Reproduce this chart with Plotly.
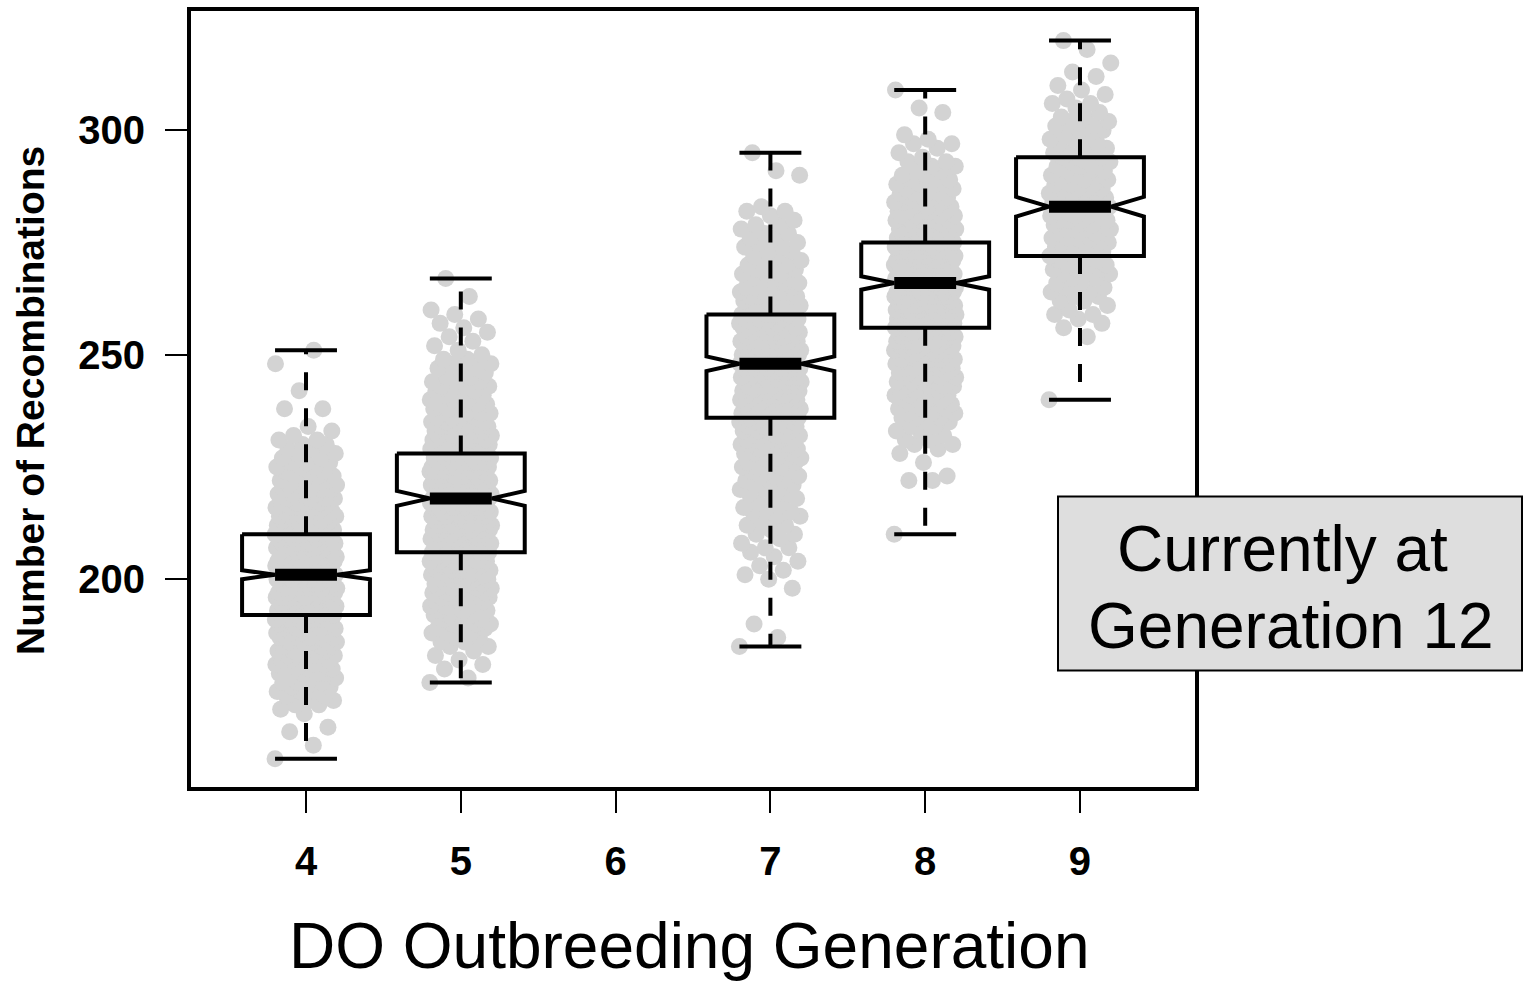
import plotly.graph_objects as go

# ---- data -------------------------------------------------------------
GENERATIONS = [4, 5, 7, 8, 9]
AXIS_GENERATIONS = [4, 5, 6, 7, 8, 9]
AXIS_COUNTS = [200, 250, 300]

# box statistics per generation
BOX_Q1 = [192, 206, 236, 256, 272]
BOX_MEDIAN = [201, 218, 248, 266, 283]
BOX_Q3 = [210, 228, 259, 275, 294]
WHISKER_LO = [160, 177, 185, 210, 240]
WHISKER_HI = [251, 267, 295, 309, 320]
NOTCH_HALF = [1.0, 1.65, 1.65, 1.5, 2.2]

# recombination counts per animal, stored as frequency tables:
# first value, then the number of animals at each consecutive integer
COUNT_START = [160, 177, 185, 210, 240]
GEN4_FREQ = [
    1, 0, 0, 1, 0, 0, 1, 1, 0, 0,
    1, 1, 2, 2, 2, 3, 3, 3, 3, 4,
    4, 4, 4, 5, 5, 5, 5, 6, 6, 6,
    7, 7, 7, 7, 7, 8, 8, 8, 8, 8,
    8, 8, 8, 8, 8, 8, 7, 7, 7, 7,
    7, 6, 6, 6, 6, 5, 5, 5, 4, 4,
    4, 4, 3, 3, 3, 3, 3, 2, 2, 2,
    2, 2, 1, 1, 1, 0, 0, 0, 2, 0,
    0, 0, 1, 0, 0, 0, 0, 0, 1, 0,
    0, 1,
]
GEN5_FREQ = [
    1, 1, 0, 1, 1, 1, 1, 1, 2, 2,
    2, 3, 3, 3, 3, 4, 4, 4, 4, 5,
    5, 5, 5, 5, 6, 6, 6, 6, 6, 7,
    7, 7, 7, 7, 7, 8, 8, 8, 8, 8,
    8, 8, 8, 8, 8, 8, 7, 7, 7, 7,
    7, 6, 6, 6, 6, 5, 5, 5, 5, 4,
    4, 4, 4, 3, 3, 3, 3, 3, 2, 2,
    2, 2, 2, 1, 1, 1, 1, 1, 1, 1,
    1, 1, 1, 1, 0, 0, 1, 0, 0, 0,
    1,
]
GEN7_FREQ = [
    1, 0, 1, 0, 0, 1, 0, 0, 0, 0,
    0, 0, 0, 1, 0, 1, 1, 1, 1, 1,
    1, 1, 2, 1, 1, 2, 1, 2, 1, 2,
    2, 2, 2, 2, 2, 3, 2, 3, 3, 3,
    3, 3, 4, 4, 4, 4, 5, 5, 5, 5,
    5, 6, 6, 6, 6, 6, 6, 7, 7, 7,
    7, 7, 7, 7, 7, 7, 7, 7, 6, 6,
    6, 6, 6, 5, 5, 5, 5, 4, 4, 4,
    4, 3, 3, 3, 3, 2, 2, 2, 2, 2,
    2, 2, 2, 1, 2, 1, 1, 2, 1, 0,
    0, 0, 0, 0, 0, 1, 1, 0, 0, 0,
    1,
]
GEN8_FREQ = [
    1, 0, 0, 0, 0, 0, 0, 0, 0, 0,
    0, 0, 2, 1, 0, 0, 1, 0, 1, 1,
    2, 2, 1, 2, 2, 2, 3, 3, 3, 3,
    4, 4, 4, 4, 5, 5, 5, 5, 6, 6,
    6, 7, 7, 7, 7, 8, 8, 8, 8, 8,
    8, 8, 8, 8, 8, 8, 8, 8, 8, 8,
    8, 8, 7, 7, 7, 7, 6, 6, 6, 6,
    5, 5, 5, 4, 4, 4, 3, 3, 3, 3,
    2, 2, 2, 2, 1, 1, 1, 2, 1, 1,
    0, 0, 0, 0, 1, 1, 0, 0, 0, 1,
]
GEN9_FREQ = [
    1, 0, 0, 0, 0, 0, 0, 0, 0, 0,
    0, 0, 0, 0, 1, 0, 1, 1, 1, 2,
    1, 1, 2, 2, 2, 2, 2, 2, 3, 3,
    3, 3, 3, 3, 3, 4, 4, 4, 4, 4,
    4, 4, 4, 4, 4, 4, 4, 4, 3, 3,
    3, 3, 3, 3, 3, 3, 2, 2, 2, 2,
    2, 2, 2, 2, 1, 1, 2, 1, 1, 1,
    1, 0, 1, 1, 0, 1, 0, 0, 1, 0,
    1,
]
FREQ_TABLES = [GEN4_FREQ, GEN5_FREQ, GEN7_FREQ, GEN8_FREQ, GEN9_FREQ]

# ---- styling ----------------------------------------------------------
FONT = "Liberation Sans, Arial, sans-serif"
POINT_GREY = "#D3D3D3"
JITTER = 0.2          # horizontal spread of the strip points (x units)
BOX_HALF = 0.413      # half width of a box
NOTCH_INNER = 0.2     # half width at the notch waist
CAP_HALF = 0.2        # half width of whisker staples
GOLDEN = 0.6180339887

W, H = 1527, 981
L, R, T, B = 191, W - 1195, 7, H - 787
PLOT_W, PLOT_H = W - L - R, H - T - B


def px_to_paper_x(px):
    return (px - L) / PLOT_W


def px_to_paper_y(py):
    return (H - B - py) / PLOT_H


fig = go.Figure()

# jittered strip of individual animals
pts_x, pts_y = [], []
for g, start, freq in zip(GENERATIONS, COUNT_START, FREQ_TABLES):
    k = 0
    for i, c in enumerate(freq):
        for _ in range(c):
            off = ((k * GOLDEN) % 1.0 - 0.5) * 2 * JITTER
            pts_x.append(g + off)
            pts_y.append(start + i)
            k += 1
fig.add_trace(go.Scatter(
    x=pts_x, y=pts_y, mode="markers",
    marker=dict(size=17, color=POINT_GREY, line=dict(width=0)),
    hoverinfo="skip", showlegend=False,
))

# notched box outlines
bx, by = [], []
for g, q1, med, q3, n in zip(GENERATIONS, BOX_Q1, BOX_MEDIAN, BOX_Q3, NOTCH_HALF):
    bx += [g - BOX_HALF, g + BOX_HALF, g + BOX_HALF, g + NOTCH_INNER,
           g + BOX_HALF, g + BOX_HALF, g - BOX_HALF, g - BOX_HALF,
           g - NOTCH_INNER, g - BOX_HALF, g - BOX_HALF, None]
    by += [q3, q3, med + n, med, med - n, q1, q1, med - n, med, med + n, q3, None]
fig.add_trace(go.Scatter(
    x=bx, y=by, mode="lines",
    line=dict(color="black", width=4),
    hoverinfo="skip", showlegend=False,
))

# dashed whiskers, drawn outward from the box edges
wx, wy = [], []
for g, q1, q3, lo, hi in zip(GENERATIONS, BOX_Q1, BOX_Q3, WHISKER_LO, WHISKER_HI):
    wx += [g, g, None, g, g, None]
    wy += [q1, lo, None, q3, hi, None]
fig.add_trace(go.Scatter(
    x=wx, y=wy, mode="lines",
    line=dict(color="black", width=4, dash="18px,18px"),
    hoverinfo="skip", showlegend=False,
))

# whisker staples
sx, sy = [], []
for g, lo, hi in zip(GENERATIONS, WHISKER_LO, WHISKER_HI):
    sx += [g - CAP_HALF, g + CAP_HALF, None, g - CAP_HALF, g + CAP_HALF, None]
    sy += [lo, lo, None, hi, hi, None]
fig.add_trace(go.Scatter(
    x=sx, y=sy, mode="lines",
    line=dict(color="black", width=4),
    hoverinfo="skip", showlegend=False,
))

# heavy median bars
mx, my = [], []
for g, med in zip(GENERATIONS, BOX_MEDIAN):
    mx += [g - NOTCH_INNER, g + NOTCH_INNER, None]
    my += [med, med, None]
fig.add_trace(go.Scatter(
    x=mx, y=my, mode="lines",
    line=dict(color="black", width=12),
    hoverinfo="skip", showlegend=False,
))

axis_common = dict(
    showgrid=False, zeroline=False,
    showline=True, linecolor="black", linewidth=4, mirror=True,
    ticks="outside", ticklen=22, tickwidth=2, tickcolor="black",
    tickfont=dict(family=FONT, size=40, color="black", weight="bold"),
)

fig.update_layout(
    width=W, height=H,
    margin=dict(l=L, r=R, t=T, b=B, pad=0),
    paper_bgcolor="white", plot_bgcolor="white",
    showlegend=False,
    xaxis=dict(range=[3.257, 9.743], tickmode="array",
               tickvals=AXIS_GENERATIONS,
               ticktext=[str(v) for v in AXIS_GENERATIONS],
               ticklabelstandoff=14, **axis_common),
    yaxis=dict(range=[153.7, 326.6], tickmode="array",
               tickvals=AXIS_COUNTS,
               ticktext=[str(v) for v in AXIS_COUNTS],
               ticklabelstandoff=12, **axis_common),
    shapes=[dict(
        type="rect", xref="paper", yref="paper", layer="above",
        x0=px_to_paper_x(1058), x1=px_to_paper_x(1522),
        y0=px_to_paper_y(670), y1=px_to_paper_y(495),
        fillcolor="#DEDEDE", line=dict(color="black", width=2),
    )],
    annotations=[
        dict(text="DO Outbreeding Generation", xref="paper", yref="paper",
             x=px_to_paper_x(689), y=px_to_paper_y(947),
             xanchor="center", yanchor="middle", showarrow=False,
             font=dict(family=FONT, size=64, color="black")),
        dict(text="Number of Recombinations", xref="paper", yref="paper",
             x=px_to_paper_x(31), y=px_to_paper_y(399), textangle=-90,
             xanchor="center", yanchor="middle", showarrow=False,
             font=dict(family=FONT, size=39, color="black", weight="bold")),
        dict(text="Currently at", xref="paper", yref="paper",
             x=px_to_paper_x(1282), y=px_to_paper_y(548),
             xanchor="center", yanchor="middle", showarrow=False,
             font=dict(family=FONT, size=64, color="black")),
        dict(text="Generation 12", xref="paper", yref="paper",
             x=px_to_paper_x(1291), y=px_to_paper_y(625),
             xanchor="center", yanchor="middle", showarrow=False,
             font=dict(family=FONT, size=64, color="black")),
    ],
)

fig.write_html("out.html")
